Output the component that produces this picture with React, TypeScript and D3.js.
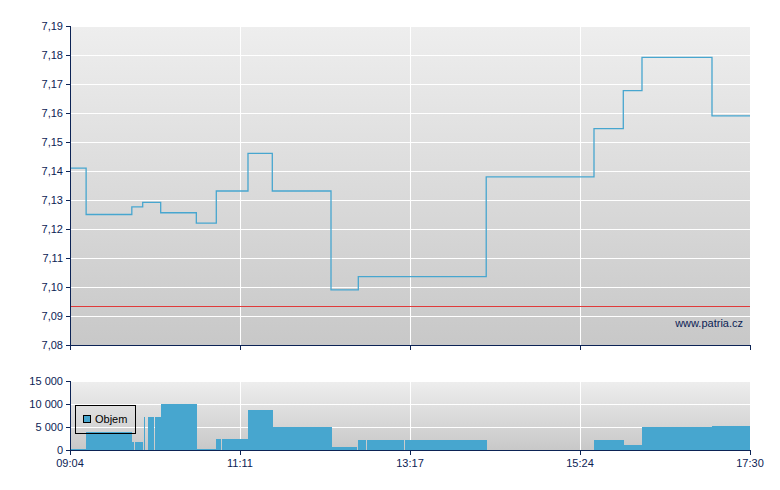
import React from "react";
import * as d3 from "d3";

// price steps (time of trade -> price)
const priceTimes = [
  "09:04:00", "09:16:00", "09:50:00", "09:58:06", "10:11:29", "10:38:00",
  "10:52:52", "11:16:27", "11:34:32", "12:18:13", "12:38:32", "14:13:43",
  "15:33:55", "15:55:43", "16:09:38", "17:01:43",
];
const priceValues = [
  7.141, 7.125, 7.1276, 7.1292, 7.1256, 7.122, 7.1331, 7.1461, 7.1331,
  7.099, 7.1036, 7.138, 7.1546, 7.1677, 7.1792, 7.159,
];
const prevClose = 7.0936;

// volume bars
const volStart = [
  "09:04:00", "09:16:00", "09:50:22", "09:52:22", "09:59:04", "10:02:02",
  "10:07:15", "10:11:43", "10:38:17", "10:52:52", "10:57:06", "11:16:41",
  "11:34:50", "12:18:58", "12:38:05", "12:44:56", "13:11:16", "13:13:17",
  "15:33:55", "15:56:14", "16:09:38", "17:01:43",
];
const volEnd = [
  "09:16:00", "09:50:22", "09:51:37", "09:58:19", "09:59:49", "10:06:17",
  "10:11:43", "10:38:17", "10:52:38", "10:56:08", "11:16:41", "11:34:50",
  "12:18:58", "12:37:34", "12:44:29", "13:11:03", "13:12:19", "14:14:18",
  "15:56:14", "16:09:38", "17:01:43", "17:30:00",
];
const volValues = [
  200, 3900, 1700, 1700, 7100, 7100, 7100, 10000, 300, 2400, 2400, 8650,
  5000, 650, 2200, 2200, 2200, 2200, 2200, 1100, 5000, 5200,
];

const timeTicks = ["09:04:00", "11:10:30", "13:17:00", "15:23:30", "17:30:00"];
const timeLabels = ["09:04", "11:11", "13:17", "15:24", "17:30"];
const priceTicks = [7.08, 7.09, 7.1, 7.11, 7.12, 7.13, 7.14, 7.15, 7.16, 7.17, 7.18, 7.19];
const volTicks = [0, 5000, 10000, 15000];

const parse = d3.timeParse("%H:%M:%S");
const t = (s: string) => parse(s) as Date;

const navy = "#0c2355";
const blue = "#47a6cf";
const font = "'Liberation Sans', Arial, sans-serif";

export default function App() {
  const left = 70;
  const right = 750;
  const x = d3.scaleTime().domain([t("09:04:00"), t("17:30:00")]).range([left, right]);
  const y = d3.scaleLinear().domain([7.08, 7.19]).range([345, 26]);
  const yv = d3.scaleLinear().domain([0, 15000]).range([450, 381]);

  const pts: [Date, number][] = priceTimes.map((s, i) => [t(s), priceValues[i]]);
  pts.push([t("17:30:00"), priceValues[priceValues.length - 1]]);
  const line = d3
    .line<[Date, number]>()
    .x((d) => x(d[0]))
    .y((d) => y(d[1]))
    .curve(d3.curveStepAfter);

  const fmtPrice = (v: number) => v.toFixed(2).replace(".", ",");
  const fmtVol = (v: number) => d3.format(",")(v).replace(/,/g, " ");

  return (
    <svg
      width={780}
      height={490}
      style={{ position: "absolute", left: 0, top: 0, background: "#fff" }}
      fontFamily={font}
    >
      <defs>
        <linearGradient id="bg" x1="0" y1="0" x2="0" y2="1">
          <stop offset="0%" stopColor="#eeeeee" />
          <stop offset="100%" stopColor="#c8c8c8" />
        </linearGradient>
      </defs>

      {/* price panel */}
      <rect x={left} y={26} width={right - left} height={319} fill="url(#bg)" />
      <g shapeRendering="crispEdges">
        {priceTicks.map((v) => (
          <line key={v} x1={left} x2={right} y1={y(v)} y2={y(v)} stroke="#fff" />
        ))}
        {timeTicks.slice(1, -1).map((s) => (
          <line key={s} x1={x(t(s))} x2={x(t(s))} y1={26} y2={345} stroke="#fff" />
        ))}
        <line
          x1={left}
          x2={right}
          y1={Math.round(y(prevClose)) + 0.5}
          y2={Math.round(y(prevClose)) + 0.5}
          stroke="#e03a3a"
        />
      </g>
      <path d={line(pts) ?? ""} fill="none" stroke={blue} strokeWidth={1.3} />
      <text x={743} y={327} textAnchor="end" fontSize={11} fill={navy}>www.patria.cz</text>
      <g shapeRendering="crispEdges" stroke={navy}>
        <line x1={left} x2={left} y1={26} y2={345} />
        <line x1={left} x2={right} y1={345} y2={345} />
        {priceTicks.map((v) => (
          <line key={v} x1={left - 4} x2={left} y1={y(v)} y2={y(v)} />
        ))}
        {timeTicks.map((s) => (
          <line key={s} x1={x(t(s))} x2={x(t(s))} y1={345} y2={350} />
        ))}
      </g>
      {priceTicks.map((v) => (
        <text key={v} x={63} y={y(v) + 4} textAnchor="end" fontSize={11} fill={navy}>
          {fmtPrice(v)}
        </text>
      ))}

      {/* volume panel */}
      <rect x={left} y={381} width={right - left} height={69} fill="url(#bg)" />
      <g shapeRendering="crispEdges">
        {volTicks.map((v) => (
          <line key={v} x1={left} x2={right} y1={yv(v)} y2={yv(v)} stroke="#fff" />
        ))}
        {timeTicks.slice(1, -1).map((s) => (
          <line key={s} x1={x(t(s))} x2={x(t(s))} y1={381} y2={450} stroke="#fff" />
        ))}
        {volValues.map((v, i) => (
          <rect
            key={i}
            x={x(t(volStart[i]))}
            y={yv(v)}
            width={x(t(volEnd[i])) - x(t(volStart[i]))}
            height={yv(0) - yv(v)}
            fill={blue}
          />
        ))}
      </g>
      <g shapeRendering="crispEdges" stroke={navy}>
        <line x1={left} x2={left} y1={381} y2={450} />
        <line x1={left} x2={right} y1={450} y2={450} />
        {volTicks.map((v) => (
          <line key={v} x1={left - 4} x2={left} y1={yv(v)} y2={yv(v)} />
        ))}
        {timeTicks.map((s) => (
          <line key={s} x1={x(t(s))} x2={x(t(s))} y1={450} y2={455} />
        ))}
      </g>
      {volTicks.map((v) => (
        <text key={v} x={63} y={yv(v) + 4} textAnchor="end" fontSize={11} fill={navy}>
          {fmtVol(v)}
        </text>
      ))}
      {timeTicks.map((s, i) => (
        <text key={s} x={x(t(s))} y={467} textAnchor="middle" fontSize={11} fill={navy}>
          {timeLabels[i]}
        </text>
      ))}

      {/* legend */}
      <g shapeRendering="crispEdges">
        <rect x={75.5} y={405.5} width={60} height={28} fill="none" stroke="#000" />
        <rect x={83.5} y={415.5} width={7} height={7} fill={blue} stroke="#000" />
      </g>
      <text x={95} y={423} fontSize={11} fill="#000">Objem</text>
    </svg>
  );
}
